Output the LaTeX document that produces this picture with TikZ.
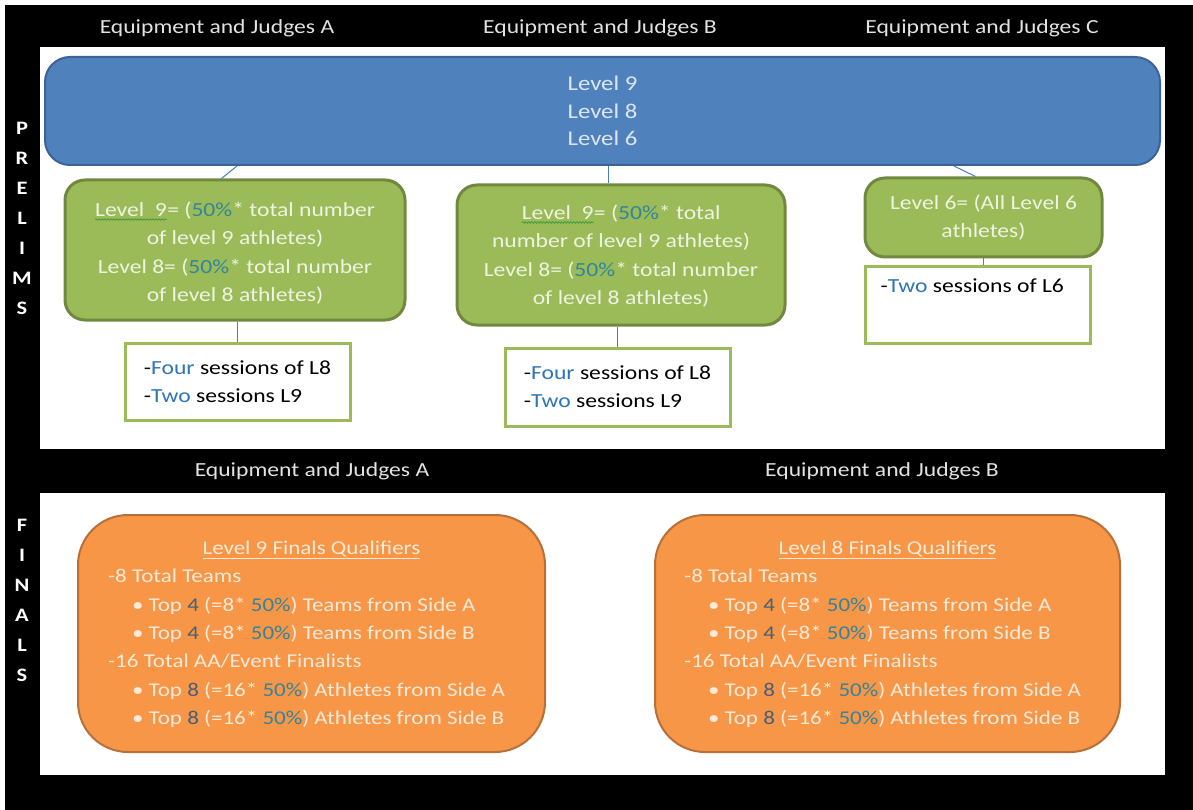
\documentclass[tikz,border=0pt]{standalone}
\usepackage{fontspec}
\setmainfont{Carlito}[FakeStretch=1.18]
\usetikzlibrary{decorations.pathmorphing,calc}
\definecolor{bluefill}{HTML}{4F81BD}
\definecolor{blueline}{HTML}{3A6397}
\definecolor{greenfill}{HTML}{9BBB59}
\definecolor{greenline}{HTML}{71893F}
\definecolor{orangefill}{HTML}{F79646}
\definecolor{orangeline}{HTML}{B8703A}
\definecolor{connc}{HTML}{4A7EBB}
\definecolor{txtblue}{HTML}{DCE6F2}
\definecolor{txtgreen}{HTML}{EEF3E2}
\definecolor{txtorange}{HTML}{FDEADA}
\definecolor{teal}{HTML}{31859C}
\definecolor{wordblue}{HTML}{2E75B6}
\definecolor{digit}{HTML}{44607A}
\definecolor{labelgray}{HTML}{E2E2E2}
\definecolor{wavygreen}{HTML}{3C9A3C}
\newcommand{\pc}[1]{\textcolor{teal}{#1}}
\newcommand{\wb}[1]{\textcolor{wordblue}{#1}}
\newcommand{\dg}[1]{\textcolor{digit}{#1}}
\newcommand{\bl}{\hspace*{24pt}\textbullet\hspace{5pt}}
\newcommand{\wv}[1]{\tikz[baseline=(wvn.base),x=1pt,y=1pt]{\node[inner sep=0pt,outer sep=0pt,minimum width=0pt,minimum height=0pt,draw=none,fill=none,rounded corners=0pt,line width=0.4pt,text=txtgreen](wvn){#1};\draw[wavygreen,line width=0.7pt,rounded corners=0pt,decorate,decoration={snake,amplitude=0.8pt,segment length=3pt}]([yshift=-3pt]wvn.base west)--([yshift=-3pt]wvn.base east);}}
\tikzset{
  bluebox/.style={rectangle,rounded corners=25pt,fill=bluefill,draw=blueline,line width=2pt,text=txtblue,align=center,inner sep=0pt,font=\fontsize{21}{27.5}\selectfont},
  greenbox/.style={rectangle,rounded corners=20pt,fill=greenfill,draw=greenline,line width=3pt,inner sep=0pt},
  gtext/.style={text=txtgreen,align=center,inner sep=0pt,font=\fontsize{20}{28.3}\selectfont},
  whitebox/.style={rectangle,fill=white,draw=greenfill,line width=3pt,text=black,align=left,inner sep=0pt,font=\fontsize{20}{28}\selectfont},
  orangebox/.style={rectangle,rounded corners=50pt,fill=orangefill,draw=orangeline,line width=2pt,inner sep=0pt},
  otext/.style={text=txtorange,inner sep=0pt,font=\fontsize{19.5}{28.4}\selectfont},
  conn/.style={draw=connc,line width=1pt},
  hdr/.style={text=labelgray,font=\fontsize{20}{24}\selectfont,inner sep=0pt},
  side/.style={text=white,font=\bfseries\fontsize{19}{30}\selectfont,align=center,inner sep=0pt},
}
\begin{document}
\begin{tikzpicture}[x=1pt,y=-1pt]
\useasboundingbox (0,0) rectangle (1193,810);
\fill[white] (0,0) rectangle (1193,810);
\fill[black] (5,5) rectangle (1193,810);
\fill[white] (40,47) rectangle (1165,449);
\fill[white] (40,493) rectangle (1165,775);
% headers
\node[hdr] (hA) at (217,28) {Equipment and Judges A};
\node[hdr] (hB) at (600,28) {Equipment and Judges B};
\node[hdr] (hC) at (982,28) {Equipment and Judges C};
\node[hdr] (fA) at (312,471) {Equipment and Judges A};
\node[hdr] (fB) at (882,471) {Equipment and Judges B};
% side labels
\node[side] (pre) at (22,218) {P\\R\\E\\L\\I\\M\\S};
\node[side] (fin) at (22,600) {F\\I\\N\\A\\L\\S};
% prelims
\node[bluebox,minimum width=1115pt,minimum height=108pt] (blue) at (602.5,111) {Level 9\\Level 8\\Level 6};
\node[greenbox,minimum width=340pt,minimum height=140pt] (g1) at (235,250) {};
\node[gtext] (g1t) at ($(g1.center)+(0,3)$)
  {\wv{Level\ \ 9}= (\pc{50\%}* total number\\of level 9 athletes)\\Level 8= (\pc{50\%}* total number\\of level 8 athletes)};
\node[greenbox,minimum width=328pt,minimum height=140pt] (g2) at (621,255) {};
\node[gtext] (g2t) at ($(g2.center)+(0,1)$)
  {\wv{Level\ \ 9}= (\pc{50\%}* total\\number of level 9 athletes)\\Level 8= (\pc{50\%}* total number\\of level 8 athletes)};
\node[greenbox,minimum width=237pt,minimum height=79pt] (g3) at (983.5,217.5) {};
\node[gtext] (g3t) at (g3.center) {Level 6= (All Level 6\\athletes)};
\node[whitebox,minimum width=225pt,minimum height=77pt] (w1) at (237.5,381.5)
  {-\wb{Four} sessions of L8\\-\wb{Two} sessions L9};
\node[whitebox,minimum width=225pt,minimum height=78pt] (w2) at (617.5,387)
  {-\wb{Four} sessions of L8\\-\wb{Two} sessions L9};
\node[whitebox,minimum width=225pt,minimum height=77pt] (w3) at (977.5,304.5) {};
\node[anchor=north west,inner sep=0pt,font=\fontsize{20}{28}\selectfont] (w3t) at ($(w3.north west)+(17,14)$) {-\wb{Two} sessions of L6};
% connectors
\draw[conn] ($(blue.south west)+(193,0)$) -- ($(g1.north west)+(158,0)$);
\draw[conn] (w1.north |- g1.south) -- (w1.north);
\coordinate (c2) at ($(g2.north)+(-13,0)$);
\draw[conn] (c2 |- blue.south) -- (c2);
\draw[conn] (w2.north |- g2.south) -- (w2.north);
\draw[conn] ($(blue.south west)+(910,0)$) -- ($(g3.north)+(-8,0)$);
\draw[conn] (g3.south) -- (g3.south |- w3.north);
% finals
\node[orangebox,minimum width=467pt,minimum height=237pt] (o1) at (311.5,633.5) {};
\node[orangebox,minimum width=465pt,minimum height=237pt] (o2) at (887.5,633.5) {};
\node[otext] (o1t) at ($(o1.north)+(0,36)$) {\underline{Level 9 Finals Qualifiers}};
\node[otext] (o2t) at ($(o2.north)+(0,36)$) {\underline{Level 8 Finals Qualifiers}};
\node[otext,anchor=north west,align=left] (o1b) at ($(o1.north west)+(31,55)$)
  {-8 Total Teams\\
   \bl Top \dg{4} (=8* \pc{50\%}) Teams from Side A\\
   \bl Top \dg{4} (=8* \pc{50\%}) Teams from Side B\\
   -16 Total AA/Event Finalists\\
   \bl Top \dg{8} (=16* \pc{50\%}) Athletes from Side A\\
   \bl Top \dg{8} (=16* \pc{50\%}) Athletes from Side B};
\node[otext,anchor=north west,align=left] (o2b) at ($(o2.north west)+(30,55)$)
  {-8 Total Teams\\
   \bl Top \dg{4} (=8* \pc{50\%}) Teams from Side A\\
   \bl Top \dg{4} (=8* \pc{50\%}) Teams from Side B\\
   -16 Total AA/Event Finalists\\
   \bl Top \dg{8} (=16* \pc{50\%}) Athletes from Side A\\
   \bl Top \dg{8} (=16* \pc{50\%}) Athletes from Side B};
\end{tikzpicture}
\end{document}
